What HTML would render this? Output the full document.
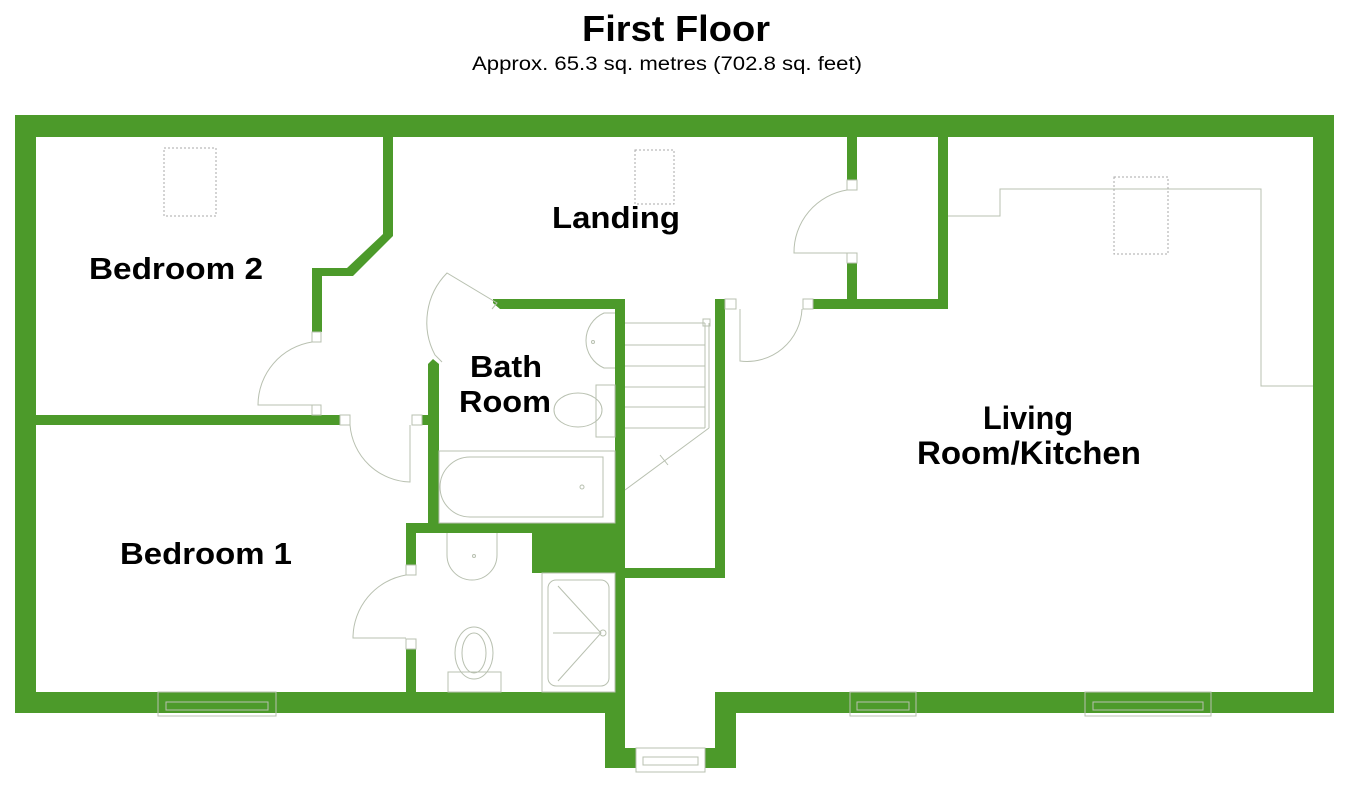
<!DOCTYPE html>
<html><head><meta charset="utf-8"><style>
html,body{margin:0;padding:0;background:#fff;}
svg{display:block;}
text{font-family:"Liberation Sans",sans-serif;fill:#000;}
</style></head><body>
<svg width="1350" height="785" viewBox="0 0 1350 785" xmlns="http://www.w3.org/2000/svg">
<text x="676" y="41" font-size="36" font-weight="bold" text-anchor="middle" textLength="188" lengthAdjust="spacingAndGlyphs">First Floor</text>
<text x="667" y="70" font-size="19" text-anchor="middle" textLength="390" lengthAdjust="spacingAndGlyphs">Approx. 65.3 sq. metres (702.8 sq. feet)</text>

<g fill="#4c9a2a">
<rect x="15" y="115" width="1319" height="22"/>
<rect x="15" y="115" width="21" height="598"/>
<rect x="1313" y="115" width="21" height="598"/>
<rect x="15" y="692" width="610" height="21"/>
<rect x="715" y="692" width="619" height="21"/>
<rect x="605" y="692" width="20" height="76"/>
<rect x="715" y="692" width="21" height="76"/>
<rect x="605" y="748" width="31" height="20"/>
<rect x="705" y="748" width="31" height="20"/>
<polygon points="383,137 393,137 393,236 353,276 322,276 322,332 312,332 312,268 347,268 383,234"/>
<rect x="36" y="415" width="304" height="10"/>
<polygon points="428,364 433,359 439,364 439,523 428,523"/>
<rect x="422" y="415" width="8" height="10"/>
<polygon points="493,299 625,299 625,309 500,309 493,303"/>
<rect x="615" y="299" width="10" height="393"/>
<rect x="406" y="523" width="219" height="10"/>
<rect x="532" y="533" width="93" height="40"/>
<rect x="406" y="523" width="10" height="42"/>
<rect x="406" y="649" width="10" height="43"/>
<rect x="715" y="299" width="10" height="279"/>
<rect x="625" y="568" width="100" height="10"/>
<rect x="847" y="137" width="10" height="43"/>
<rect x="847" y="263" width="10" height="46"/>
<rect x="813" y="299" width="135" height="10"/>
<rect x="938" y="137" width="10" height="172"/>
</g>

<g fill="none" stroke="#b8c0b0" stroke-width="1">
<rect x="312" y="332" width="9" height="10"/>
<rect x="312" y="405" width="9" height="10"/>
<rect x="340" y="415" width="10" height="10"/>
<rect x="412" y="415" width="10" height="10"/>
<rect x="406" y="565" width="10" height="10"/>
<rect x="406" y="639" width="10" height="10"/>
<rect x="847" y="180" width="10" height="10"/>
<rect x="847" y="253" width="10" height="10"/>
<rect x="725" y="299" width="11" height="10"/>
<rect x="803" y="299" width="10" height="10"/>
<path d="M312,342 A64,64 0 0 0 258,405 L312,405"/>
<path d="M350,425 A62,62 0 0 0 410,482 L410,425"/>
<path d="M406,575 A64,64 0 0 0 353,638 L406,638"/>
<path d="M847,190 A63,63 0 0 0 794,253 L847,253"/>
<path d="M740,309 L740,361 A55,55 0 0 0 802,309"/>
<path d="M442,362 L435,355 A70,70 0 0 1 447,273 L497,303 L492,309"/>
<path d="M615,313 L604,313 A30,30 0 0 0 604,368 L615,368"/>
<circle cx="593" cy="342" r="1.5"/>
<rect x="596" y="385" width="19" height="52"/>
<ellipse cx="578" cy="410" rx="24" ry="17"/>
<rect x="439" y="451" width="176" height="72"/>
<path d="M603,457 L470,457 A30,30 0 0 0 470,517 L603,517 Z"/>
<circle cx="582" cy="487" r="2"/>
<line x1="625" y1="323" x2="705" y2="323"/>
<line x1="625" y1="345" x2="705" y2="345"/>
<line x1="625" y1="366" x2="705" y2="366"/>
<line x1="625" y1="387" x2="705" y2="387"/>
<line x1="625" y1="407" x2="705" y2="407"/>
<line x1="625" y1="428" x2="705" y2="428"/>
<line x1="705" y1="323" x2="705" y2="428"/>
<line x1="709" y1="323" x2="709" y2="428"/>
<rect x="703" y="319" width="7" height="7"/>
<path d="M709,428 L625,490 M660,455 L668,465"/>
<path d="M447,533 L447,555 A22,22 0 0 0 497,555 L497,533"/>
<circle cx="474" cy="556" r="1.5"/>
<ellipse cx="474" cy="653" rx="19" ry="26"/>
<ellipse cx="474" cy="653" rx="12" ry="20"/>
<rect x="448" y="672" width="53" height="20"/>
<rect x="542" y="573" width="73" height="119"/>
<rect x="548" y="580" width="61" height="106" rx="8"/>
<path d="M558,586 L601,633 L558,681 M553,633 L601,633"/>
<circle cx="603" cy="633" r="3"/>
<rect x="158" y="692" width="118" height="24"/>
<rect x="166" y="702" width="102" height="8"/>
<rect x="850" y="692" width="66" height="24"/>
<rect x="857" y="702" width="52" height="8"/>
<rect x="1085" y="692" width="126" height="24"/>
<rect x="1093" y="702" width="110" height="8"/>
<rect x="636" y="748" width="69" height="24"/>
<rect x="643" y="757" width="55" height="8"/>
<path d="M948,216 L1000,216 L1000,189 L1261,189 L1261,386 L1313,386"/>
</g>
<g fill="none" stroke="#a8a8a8" stroke-width="1" stroke-dasharray="2,2">
<rect x="164" y="148" width="52" height="68"/>
<rect x="635" y="150" width="39" height="54"/>
<rect x="1114" y="177" width="54" height="77"/>
</g>

<g font-weight="bold">
<text x="89" y="279" font-size="31" textLength="174" lengthAdjust="spacingAndGlyphs">Bedroom 2</text>
<text x="552" y="228" font-size="31" textLength="128" lengthAdjust="spacingAndGlyphs">Landing</text>
<text x="470" y="377" font-size="31" textLength="72" lengthAdjust="spacingAndGlyphs">Bath</text>
<text x="459" y="412" font-size="31" textLength="92" lengthAdjust="spacingAndGlyphs">Room</text>
<text x="983" y="429" font-size="32" textLength="90" lengthAdjust="spacingAndGlyphs">Living</text>
<text x="917" y="464" font-size="32" textLength="224" lengthAdjust="spacingAndGlyphs">Room/Kitchen</text>
<text x="120" y="564" font-size="31" textLength="172" lengthAdjust="spacingAndGlyphs">Bedroom 1</text>
</g>
</svg>
</body></html>
